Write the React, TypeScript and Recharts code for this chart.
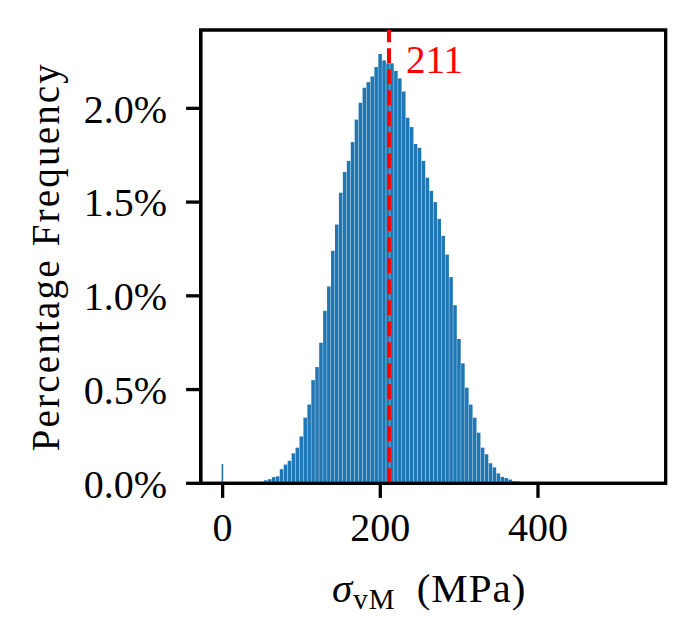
import React from "react";
import { ComposedChart, Bar, XAxis, YAxis, ReferenceLine, ReferenceArea } from "recharts";

// bin centres (MPa) and the share of samples in each bin (%)
const BIN_CENTERS = [
  0, 50, 55, 60, 65, 70, 75, 80, 85, 90, 95, 100, 105, 110, 115, 120, 125, 130, 135, 140, 145, 150,
  155, 160, 165, 170, 175, 180, 185, 190, 195, 200, 205, 210, 215, 220, 225, 230, 235, 240, 245,
  250, 255, 260, 265, 270, 275, 280, 285, 290, 295, 300, 305, 310, 315, 320, 325, 330, 335, 340,
  345, 350, 355, 360, 365, 370, 375, 380,
];
const PCT = [
  0.103, 0.008, 0.016, 0.022, 0.033, 0.037, 0.075, 0.1, 0.12, 0.16, 0.19, 0.25, 0.35, 0.42, 0.55,
  0.62, 0.75, 0.92, 1.05, 1.24, 1.38, 1.55, 1.66, 1.72, 1.82, 1.94, 2.03, 2.11, 2.14, 2.17, 2.22,
  2.29, 2.256, 2.24, 2.24, 2.2, 2.16, 2.09, 1.95, 1.9, 1.81, 1.79, 1.72, 1.63, 1.56, 1.5, 1.41,
  1.32, 1.22, 1.1, 0.95, 0.77, 0.64, 0.51, 0.42, 0.35, 0.27, 0.19, 0.155, 0.107, 0.085, 0.053,
  0.034, 0.028, 0.02, 0.012, 0.01, 0.005,
];
const MEDIAN = 211;

const X_TICKS = [0, 200, 400];
const Y_TICKS = [0, 0.5, 1, 1.5, 2];
const X_DOMAIN = [-27.8, 562];
const Y_DOMAIN = [0, 2.418];

const BAR_COLOR = "#1f77b4";
const FONT = "'Liberation Serif', 'Times New Roman', serif";
const LINE_W = 3.3;
const TICK_LEN = 14.6;

const data = BIN_CENTERS.map((bin, i) => ({ bin, pct: PCT[i] }));

function HistBar(p: any) {
  // the lone sample at 0 sits in a much narrower bar
  const w = p.payload.bin === 0 ? 1.6 : p.width;
  return <rect x={p.x + (p.width - w) / 2} y={p.y} width={w} height={p.height} fill={BAR_COLOR} />;
}

function XLabel(props: any) {
  const vb = props.viewBox;
  const cx = vb.x + vb.width / 2 - 4;
  return (
    <text x={cx} y={602} textAnchor="middle" fontFamily={FONT} fontSize={41} fill="#000" letterSpacing={1}>
      <tspan fontStyle="italic">σ</tspan>
      <tspan fontSize={29} dy={7}>vM</tspan>
      <tspan dy={-7} dx={10}> (MPa)</tspan>
    </text>
  );
}

function YLabel(props: any) {
  const vb = props.viewBox;
  const cy = vb.y + vb.height / 2;
  return (
    <text
      x={59}
      y={cy}
      transform={`rotate(-90, 59, ${cy})`}
      textAnchor="middle"
      fontFamily={FONT}
      fontSize={39}
      letterSpacing={2.2}
      fill="#000"
    >
      Percentage Frequency
    </text>
  );
}

function MedianLabel(props: any) {
  const vb = props.viewBox;
  return (
    <text x={vb.x + 17} y={73} fontFamily={FONT} fontSize={39} fill="#ff0000">
      {MEDIAN}
    </text>
  );
}

export default function App() {
  const tickStyle = { fontFamily: FONT, fontSize: 40, fill: "#000" };
  return (
    <div style={{ position: "absolute", left: 0, top: 0, background: "#fff" }}>
      <ComposedChart
        width={695}
        height={637}
        data={data}
        margin={{ top: 30, right: 29.3, bottom: 0, left: 0 }}
        barCategoryGap={0}
      >
        <XAxis
          dataKey="bin"
          type="number"
          domain={X_DOMAIN}
          ticks={X_TICKS}
          allowDataOverflow
          height={153.7}
          tick={tickStyle}
          tickSize={TICK_LEN}
          tickMargin={15}
          tickLine={{ stroke: "#000", strokeWidth: LINE_W }}
          axisLine={{ stroke: "#000", strokeWidth: LINE_W }}
          label={{ content: XLabel }}
        />
        <YAxis
          type="number"
          domain={Y_DOMAIN}
          ticks={Y_TICKS}
          allowDataOverflow
          width={200.7}
          tick={tickStyle}
          tickSize={TICK_LEN}
          tickMargin={19}
          tickFormatter={(v: number) => `${v.toFixed(1)}%`}
          tickLine={{ stroke: "#000", strokeWidth: LINE_W }}
          axisLine={{ stroke: "#000", strokeWidth: LINE_W }}
          label={{ content: YLabel }}
        />
        <Bar dataKey="pct" barSize={4.2} shape={HistBar} isAnimationActive={false} />
        <ReferenceLine
          x={MEDIAN}
          stroke="#ff0000"
          strokeWidth={4}
          strokeDasharray="15 6"
          label={{ content: MedianLabel }}
        />
        <ReferenceArea
          x1={X_DOMAIN[0]}
          x2={X_DOMAIN[1]}
          y1={Y_DOMAIN[0]}
          y2={Y_DOMAIN[1]}
          fill="none"
          stroke="#000"
          strokeWidth={LINE_W}
          fillOpacity={0}
        />
      </ComposedChart>
    </div>
  );
}
